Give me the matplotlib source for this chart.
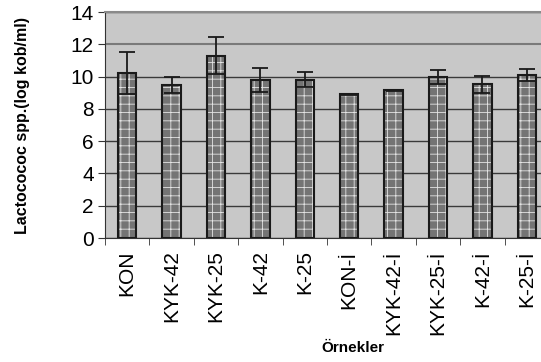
import numpy as np
import matplotlib
matplotlib.use("Agg")
import matplotlib.pyplot as plt

plt.rcParams["font.family"] = ["Liberation Sans", "DejaVu Sans"]
plt.rcParams["hatch.linewidth"] = 0.6

samples = ["KON", "KYK-42", "KYK-25", "K-42", "K-25",
           "KON-İ", "KYK-42-İ", "KYK-25-İ", "K-42-İ", "K-25-İ"]
means = [10.2, 9.5, 11.3, 9.8, 9.8, 8.9, 9.15, 9.98, 9.52, 10.1]
errs = [1.3, 0.5, 1.15, 0.75, 0.47, 0.05, 0.03, 0.45, 0.54, 0.37]

fig = plt.figure(figsize=(5.41, 3.62), dpi=100)
ax = fig.add_axes([105 / 541, 124 / 362, 444 / 541, 226 / 362])
ax.set_facecolor("#c8c8c8")

x = np.arange(len(samples))
w = 0.41
ax.bar(x, means, w, color="#747474", edgecolor="#e4e4e4", hatch="++", linewidth=0, zorder=3)
ax.bar(x, means, w, fill=False, edgecolor="#1a1a1a", linewidth=1.5, zorder=4)
ax.errorbar(x, means, yerr=errs, fmt="none", ecolor="#1a1a1a", elinewidth=1.3,
            capsize=5.5, capthick=1.3, zorder=5)

ax.set_ylim(0, 14)
ax.set_xlim(-0.5, len(samples) - 0.5)
ax.set_yticks(range(0, 15, 2))
ax.yaxis.grid(True, color="#3a3a3a", linewidth=1, zorder=1)
ax.set_axisbelow(True)
# the line at 12 looks lighter and a bit heavier in the original
ax.get_ygridlines()[6].set_color("#7a7a7a")
ax.get_ygridlines()[6].set_linewidth(1.5)

ax.spines["right"].set_visible(False)
ax.spines["top"].set_color("#8a8a8a")
ax.spines["top"].set_linewidth(1.5)
ax.spines["left"].set_color("#333333")
ax.spines["bottom"].set_color("#333333")

ax.set_xticks(x)
ax.set_xticklabels(samples, rotation=90, fontsize=15)
ax.tick_params(axis="x", length=0, pad=9)
ax.set_xticks(np.arange(-0.5, len(samples), 1), minor=True)
ax.tick_params(axis="x", which="minor", length=5, color="#333333")
ax.tick_params(axis="y", labelsize=15, length=5, color="#333333", pad=3)

ax.set_ylabel("Lactocococ spp.(log kob/ml)", fontsize=11.5, fontweight="bold")
ax.yaxis.set_label_coords(-0.17, 0.5)
fig.text(353 / 541, 1 - 348 / 362, "Örnekler", fontsize=11, fontweight="bold",
         ha="center", va="center")

fig.savefig("out.png", dpi=100)
